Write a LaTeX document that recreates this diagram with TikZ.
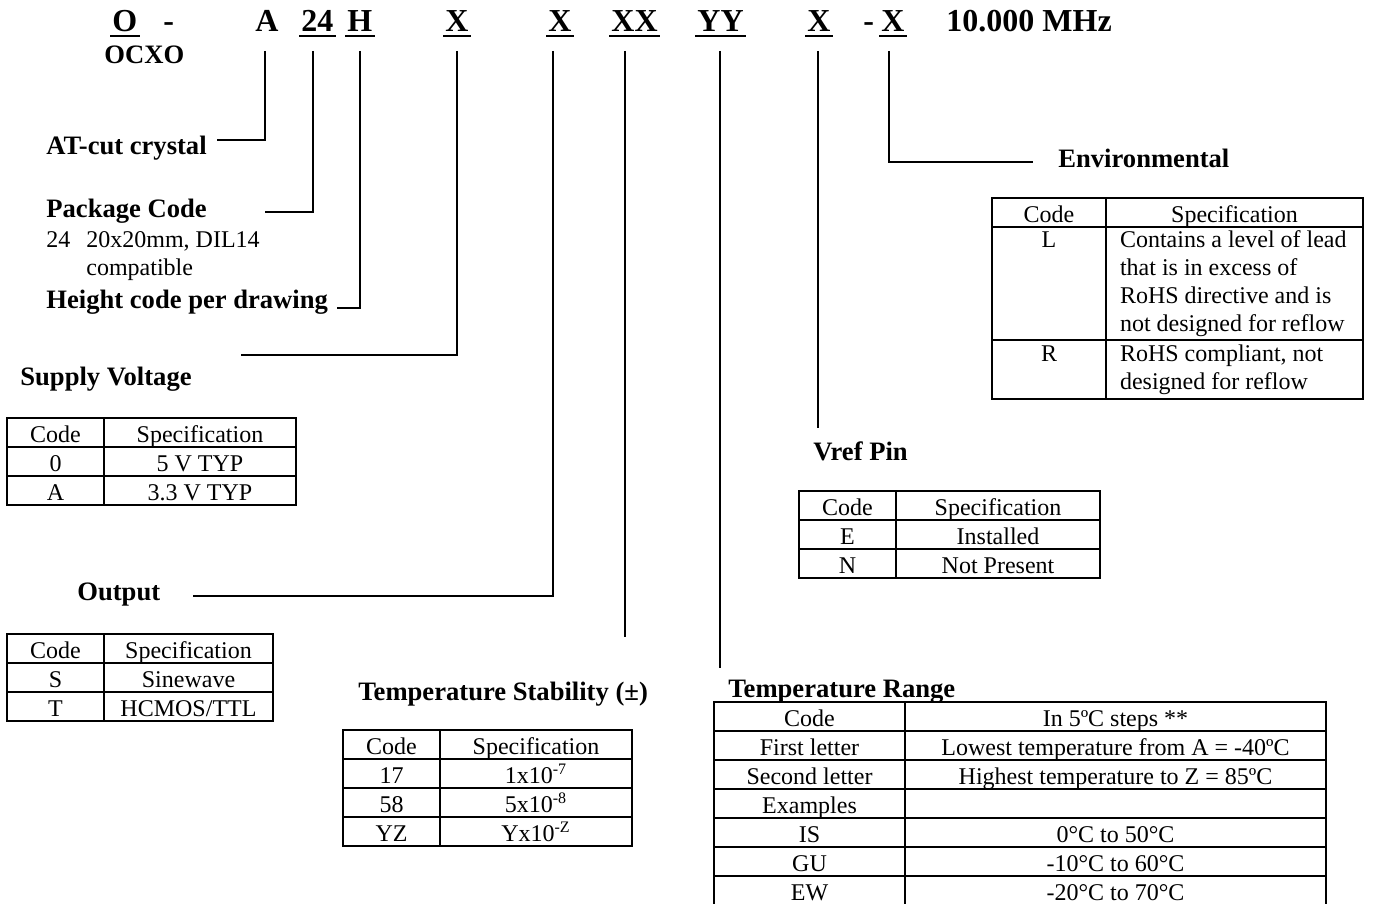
\documentclass[tikz,border=0pt]{standalone}
\usepackage{fontspec}
\setmainfont{Liberation Serif}
\newcommand\tabfont{\fontsize{12}{14}\selectfont}
\newcommand\headfont{\fontsize{13.3}{16}\selectfont\bfseries}
\newcommand\codefont{\fontsize{16}{19}\selectfont\bfseries}

\begin{document}
\begin{tikzpicture}[
    x=0.5pt, y=-0.5pt,
    code/.style={font=\codefont, inner xsep=1pt, inner ysep=2pt, text height=11pt, text depth=0pt, anchor=base west},
    head/.style={font=\headfont, inner sep=0pt, anchor=base west},
    plain/.style={font=\tabfont, inner sep=0pt, anchor=base west},
    cellbase/.style={draw, line width=1pt, inner sep=0pt, font=\tabfont},
    cell/.style={cellbase, minimum height=14.5pt, text height=9.5pt, text depth=0pt},
    multi/.style={cellbase, minimum width=128.5pt, text width=114.5pt, align=flush left},
    uline/.style={line width=1pt},
    lead/.style={line width=0.9pt}
]
\useasboundingbox (0,0) rectangle (1375,904);

% Part number row
\node[code] (cO) at (110,32) {O};
\node[code] (dash1) at (161,32) {-};
\node[code] (cA) at (253,32) {A};
\node[code] (c24) at (299,32) {24};
\node[code] (cH) at (345,32) {H};
\node[code] (cSV) at (443,32) {X};
\node[code] (cOut) at (546,32) {X};
\node[code] (cTS) at (609,32) {XX};
\node[code] (cTR) at (695,32) {YY};
\node[code] (cVr) at (805,32) {X};
\node[code] (dash2) at (861,32) {-};
\node[code] (cEnv) at (879,32) {X};
\node[code] (freq) at (944,32) {10.000 MHz};
\foreach \n in {cO,c24,cH,cSV,cOut,cTS,cTR,cVr,cEnv}
    \draw[uline] (\n.south west) -- (\n.south east);
\node[head] (ocxo) at (104,64) {OCXO};

% Left labels
\node[head] (atcut) at (46,155) {AT-cut crystal};
\node[head] (pkg) at (46,217) {Package Code};
\node[plain] (pkg24) at (46,247) {24\hspace{8pt}20x20mm, DIL14};
\node[plain] (pkgc) at (86,275) {compatible};
\node[head] (height) at (46,308) {Height code per drawing};
\node[head] (supply) at (20,385) {Supply Voltage};
\node[head] (output) at (77,600) {Output};
\node[head] (tstab) at (358,700) {Temperature Stability (\textpm)};
\node[head] (trange) at (728,697) {Temperature Range};
\node[head] (vref) at (813,460) {Vref Pin};
\node[head] (env) at (1058,167) {Environmental};

% Leader lines
\coordinate (tA) at (265,51);   \coordinate (eA) at (217,140);
\coordinate (t24) at (313,51);  \coordinate (e24) at (265,212);
\coordinate (tH) at (360,51);   \coordinate (eH) at (337,308);
\coordinate (tSV) at (457,51);  \coordinate (eSV) at (241,355);
\coordinate (tOut) at (553,51); \coordinate (eOut) at (193,596);
\coordinate (tTS) at (625,51);  \coordinate (eTS) at (625,637);
\coordinate (tTR) at (720,51);  \coordinate (eTR) at (720,668);
\coordinate (tVr) at (818,51);  \coordinate (eVr) at (818,428);
\coordinate (tEnv) at (889,51); \coordinate (eEnv) at (1033,162);
\draw[lead] (tA) |- (eA);
\draw[lead] (t24) |- (e24);
\draw[lead] (tH) |- (eH);
\draw[lead] (tSV) |- (eSV);
\draw[lead] (tOut) |- (eOut);
\draw[lead] (tTS) -- (eTS);
\draw[lead] (tTR) -- (eTR);
\draw[lead] (tVr) -- (eVr);
\draw[lead] (tEnv) |- (eEnv);

% Supply voltage table
\node[cell, minimum width=48.5pt] (sv-c0) at (55.5,432.5) {Code};
\node[cell, minimum width=96pt] (sv-s0) at (200,432.5) {Specification};
\node[cell, minimum width=48.5pt] (sv-c1) at (55.5,461.5) {0};
\node[cell, minimum width=96pt] (sv-s1) at (200,461.5) {5 V TYP};
\node[cell, minimum width=48.5pt] (sv-c2) at (55.5,490.5) {A};
\node[cell, minimum width=96pt] (sv-s2) at (200,490.5) {3.3 V TYP};

% Output table
\node[cell, minimum width=48.5pt] (out-c0) at (55.5,648.5) {Code};
\node[cell, minimum width=84.5pt] (out-s0) at (188.5,648.5) {Specification};
\node[cell, minimum width=48.5pt] (out-c1) at (55.5,677.5) {S};
\node[cell, minimum width=84.5pt] (out-s1) at (188.5,677.5) {Sinewave};
\node[cell, minimum width=48.5pt] (out-c2) at (55.5,706.5) {T};
\node[cell, minimum width=84.5pt] (out-s2) at (188.5,706.5) {HCMOS/TTL};

% Temperature stability table
\node[cell, minimum width=48.5pt] (ts-c0) at (391.5,744.5) {Code};
\node[cell, minimum width=96pt] (ts-s0) at (536,744.5) {Specification};
\node[cell, minimum width=48.5pt] (ts-c1) at (391.5,773.5) {17};
\node[cell, minimum width=96pt] (ts-s1) at (536,773.5) {1x10\textsuperscript{-7}};
\node[cell, minimum width=48.5pt] (ts-c2) at (391.5,802.5) {58};
\node[cell, minimum width=96pt] (ts-s2) at (536,802.5) {5x10\textsuperscript{-8}};
\node[cell, minimum width=48.5pt] (ts-c3) at (391.5,831.5) {YZ};
\node[cell, minimum width=96pt] (ts-s3) at (536,831.5) {Yx10\textsuperscript{-Z}};

% Temperature range table
\node[cell, minimum width=95.5pt] (tr-c0) at (809.5,716.5) {Code};
\node[cell, minimum width=210.5pt] (tr-s0) at (1115.5,716.5) {In 5ºC steps **};
\node[cell, minimum width=95.5pt] (tr-c1) at (809.5,745.5) {First letter};
\node[cell, minimum width=210.5pt] (tr-s1) at (1115.5,745.5) {Lowest temperature from A = -40ºC};
\node[cell, minimum width=95.5pt] (tr-c2) at (809.5,774.5) {Second letter};
\node[cell, minimum width=210.5pt] (tr-s2) at (1115.5,774.5) {Highest temperature to Z = 85ºC};
\node[cell, minimum width=95.5pt] (tr-c3) at (809.5,803.5) {Examples};
\node[cell, minimum width=210.5pt] (tr-s3) at (1115.5,803.5) {};
\node[cell, minimum width=95.5pt] (tr-c4) at (809.5,832.5) {IS};
\node[cell, minimum width=210.5pt] (tr-s4) at (1115.5,832.5) {0°C to 50°C};
\node[cell, minimum width=95.5pt] (tr-c5) at (809.5,861.5) {GU};
\node[cell, minimum width=210.5pt] (tr-s5) at (1115.5,861.5) {-10°C to 60°C};
\node[cell, minimum width=95.5pt] (tr-c6) at (809.5,890.5) {EW};
\node[cell, minimum width=210.5pt] (tr-s6) at (1115.5,890.5) {-20°C to 70°C};

% Vref pin table
\node[cell, minimum width=48.5pt] (vr-c0) at (847.5,505.5) {Code};
\node[cell, minimum width=102pt] (vr-s0) at (998,505.5) {Specification};
\node[cell, minimum width=48.5pt] (vr-c1) at (847.5,534.5) {E};
\node[cell, minimum width=102pt] (vr-s1) at (998,534.5) {Installed};
\node[cell, minimum width=48.5pt] (vr-c2) at (847.5,563.5) {N};
\node[cell, minimum width=102pt] (vr-s2) at (998,563.5) {Not Present};

% Environmental table
\node[cell, minimum width=57pt] (env-c0) at (1049,212.5) {Code};
\node[cell, minimum width=128.5pt] (env-s0) at (1234.5,212.5) {Specification};
\node[cellbase, minimum width=57pt, minimum height=56.5pt] (env-c1) at (1049,283.5) {};
\node[plain, anchor=base] (env-l) at (1049,247) {L};
\node[multi, minimum height=56.5pt] (env-s1) at (1234.5,283.5) {Contains a level of lead\\that is in excess of\\RoHS directive and is\\not designed for reflow};
\node[cellbase, minimum width=57pt, minimum height=29.5pt] (env-c2) at (1049,369.5) {};
\node[plain, anchor=base] (env-r) at (1049,361) {R};
\node[multi, minimum height=29.5pt] (env-s2) at (1234.5,369.5) {RoHS compliant, not\\designed for reflow};
\end{tikzpicture}
\end{document}
